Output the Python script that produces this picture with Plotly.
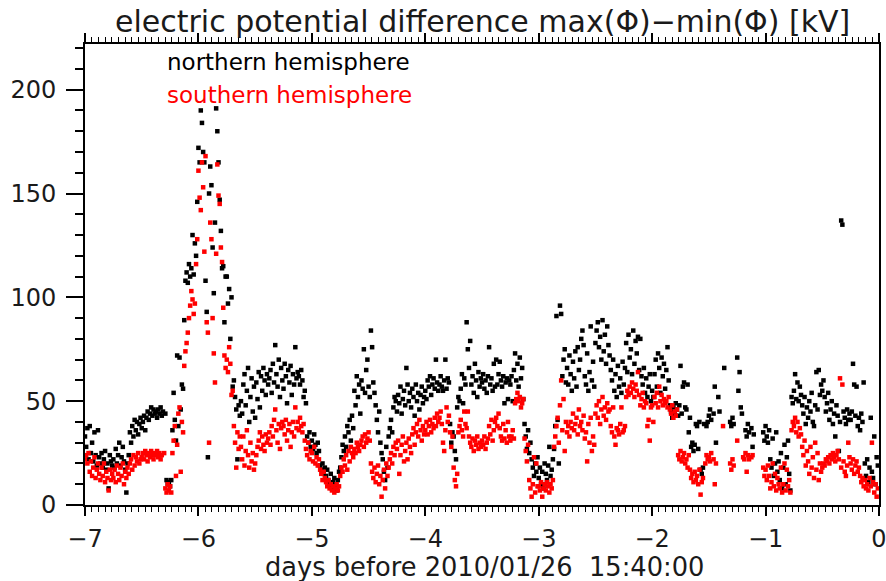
import numpy as np
import plotly.graph_objects as go

# ---- sampling: 15-minute cadence over the 7 days before the reference epoch
START_DAY = -7.0
SAMPLES_PER_DAY = 96
N = None

# ---- northern hemisphere max(phi)-min(phi) [kV], one list per day (96 samples each)
north_day7 = [33, 28, 37, 22, 38, 25, 30, 21, 35, 24, 19, 36,
              23, 20, 25, 18, 22, 26, 17, 20, 8, 24, 21, 19,
              22, 18, 27, 20, 24, 30, 19, 23, 28, 21, 17, 6,
              20, 24, 35, 30, 38, 33, 41, 36, 40, 34, 39, 42,
              37, 40, 43, 36, 42, 45, 41, 44, 47, 43, 46, 44,
              45, 42, 46, 44, 47, 43, 45, N, 44, 12, 10, 11,
              9, 12, 36, 54, 41, 31, 72, 38, 71, 46, 58, 56,
              89, 108, 112, 107, 116, 110, 114, 130, 111, 126, 120, 146]
north_day6 = [172, 165, 190, 184, 170, 165, 108, 93, 23, 150, 163, 154,
              124, 102, 136, 191, 180, 165, 147, 132, 114, 115, 88, 110,
              110, 97, 104, 80, 100, 57, 60, 52, 46, 22, 48, 43,
              50, 44, 58, 63, 48, 55, 66, 40, 52, 61, 45, 57,
              42, 59, 51, 64, 47, 62, 55, 66, 60, 53, 63, 58,
              61, 65, 54, 68, 59, 77, 63, 57, 70, 52, 66, 60,
              56, 68, 62, 49, 65, 59, 67, 53, 63, 58, 76, 61,
              64, 62, 58, 65, 60, 52, 55, 49, 33, 30, 35, 28]
north_day5 = [31, 27, 34, 29, 25, 30, 26, 19, 17, 20, 15, 18,
              14, 17, 12, 10, 15, 8, 11, 13, 9, 7, 12, 16,
              18, 23, 29, 26, 33, 28, 38, 35, 41, 31, 43, 37,
              55, 48, 62, 52, 58, 44, 60, 56, 75, 54, 65, 70,
              57, 52, 84, 76, 59, 54, 48, 41, 35, 45, 30, 25,
              22, 16, 12, 28, 18, 33, 37, 41, 35, 47, 52, 50,
              45, 53, 49, 57, 44, 51, 55, 48, 66, 58, 50, 54,
              47, 56, 52, 43, 58, 50, 54, 46, 53, 57, 49, 52]
north_day4 = [55, 51, 60, 57, 62, 53, 58, 61, 56, 70, 59, 55,
              58, 62, 57, 55, 60, 70, 56, 61, 59, 39, 30, 35,
              33, 26, 22, 47, 52, 50, 56, 63, 49, 61, 58, 88,
              75, 66, 79, 58, 62, 54, 68, 60, 52, 64, 57, 61,
              59, 63, 56, 60, 54, 62, 76, 58, 61, 55, 68, 57,
              70, 58, 63, 69, 60, 57, 62, 49, 59, 61, 51, 60,
              58, 62, 50, 65, 73, 60, 68, 57, 71, 61, 66, 51,
              39, 33, 27, 36, 25, 30, 22, 18, 14, 20, 16, 23]
north_day3 = [13, 18, 10, 16, 8, 20, 15, 12, 19, 28, 14, 17,
              22, 27, 38, 91, 41, 20, 96, 92, 62, 70, 75, 59,
              66, 58, 72, 63, 55, 69, 61, 74, 57, 76, 65, 70,
              80, 84, 77, 62, 58, 73, 55, 64, 86, 60, 69, 57,
              78, 84, 88, 76, 81, 70, 89, 74, 82, 68, 86, 77,
              72, 65, 60, 70, 55, 63, 52, 67, 57, 61, 54, 69,
              58, 66, 78, 64, 82, 71, 75, 63, 84, 68, 79, 73,
              81, 65, 80, 62, 58, 66, 54, 61, 52, 57, 63, 50]
north_day2 = [55, 52, 63, 70, 57, 73, 66, 54, 71, 62, 68, 56,
              65, 76, 60, 48, 45, 42, 47, 44, 49, 46, 43, 48,
              67, 44, 57, 59, 47, 46, 58, 35, 42, 28, 30, 26,
              29, 39, 38, 27, 40, 17, 15, 18, 39, N, 38, 40,
              43, 46, 41, N, 44, 57, 30, N, 52, 45, N, N,
              N, 66, N, N, N, N, 40, 38, 42, 39, N, N,
              71, 55, 64, 47, 44, N, N, 36, 33, 39, 35, N,
              37, 28, 34, N, N, N, N, N, N, N, 35, 31]
north_day1 = [38, 33, 30, 36, 22, 18, 32, 14, 20, 35, 16, 21,
              12, 25, 8, 18, 29, 10, 23, 31, 15, 7, 52, 49,
              55, 63, 51, 59, 50, 57, 53, 48, 44, 52, 39, 47,
              42, 50, 45, 54, 40, 38, 48, 64, 46, 65, 53, 58,
              55, 60, 52, 45, 49, 54, 41, 46, 50, 39, 44, 33,
              48, 43, 26, 40, 137, 135, 45, 42, 39, 46, 41, 44,
              41, 45, 68, 58, 43, 57, 38, 42, 36, 44, 40, 59,
              20, 14, 22, 11, 18, 42, 16, 13, 33, 10, 23, 19]

# ---- southern hemisphere max(phi)-min(phi) [kV]
south_day7 = [22, 24, 20, 25, 16, 21, 14, 18, 23, 13, 17, 20,
              15, 12, 18, 14, 20, 11, 16, 13, 7, 17, 12, 15,
              13, 17, 11, 19, 15, 12, 18, 14, 20, 10, 16, 13,
              18, 15, 20, 22, 17, 24, 19, 23, 21, 25, 20, 22,
              23, 25, 22, 26, 24, 21, 25, 23, 26, 24, 22, 25,
              24, 26, 23, 25, 22, 24, N, 25, 8, 6, 10, 7,
              9, 6, 25, 31, 38, 14, 29, 44, 47, 16, 40, 35,
              67, 74, 78, 83, 90, 96, 103, 99, 92, 97, 116, 128]
south_day6 = [161, 148, 142, 165, 153, 122, 168, 88, 83, 30, 136, 128,
              90, 73, 59, 121, 164, 149, 145, 124, 117, 95, 72, 66,
              70, 64, 76, 68, 53, 55, 38, 30, 18, 35, 27, 33,
              28, 22, 33, 19, 26, 36, 24, 18, 30, 21, 25, 17,
              20, 24, 28, 31, 35, 27, 33, 29, 26, 34, 30, 32,
              35, 29, 38, 33, 41, 46, 36, 30, 39, 27, 37, 40,
              38, 34, 41, 31, 36, 39, 28, 35, 40, 33, 47, 37,
              40, 36, 42, 38, 35, 39, 31, 27, 24, 30, 22, 26]
south_day5 = [25, 21, 28, 20, 23, 19, 22, 17, 15, 12, 16, 13,
              11, 9, 12, 8, 10, 7, 9, 6, 8, 10, 7, 9,
              14, 18, 16, 22, 19, 24, 17, 26, 21, 28, 25, 23,
              27, 25, 30, 28, 26, 29, 31, 33, 28, 34, 30, 32,
              35, 31, 20, 16, 13, 18, 11, 15, 19, 10, 14, 4,
              12, 17, 8, 20, 14, 18, 22, 25, 20, 28, 24, 30,
              27, 31, 15, 24, 29, 33, 21, 26, 30, 22, 32, 28,
              25, 34, 37, 29, 35, 39, 33, 41, 36, 31, 38, 34]
south_day4 = [36, 40, 34, 38, 41, 35, 39, 37, 42, 38, 44, 40,
              42, 45, 39, 30, 26, 36, 47, 40, 43, 35, 28, 33,
              18, 12, 9, 15, 35, 38, 41, 36, 33, 45, 39, 37,
              45, 33, 30, 28, 32, 26, 31, 29, 33, 27, 30, 28,
              31, 29, 33, 27, 30, 32, 38, 34, 41, 31, 36, 40,
              42, 38, 44, 37, 33, 31, 39, 32, 36, 30, 40, 33,
              31, 33, 36, 32, 49, 51, 54, 50, 52, 47, 49, 51,
              32, 26, 21, 29, 12, 8, 4, 10, 23, 6, 20, 9]
south_day3 = [9, 7, 11, 4, 8, 10, 7, 11, 9, 6, 10, 8,
              12, 28, 33, 38, 42, 30, 48, 60, 36, 51, 26, 40,
              35, 38, 33, 40, 37, 44, 36, 39, 42, 34, 46, 38,
              40, 36, 43, 32, 35, 21, 39, 30, 42, 26, 33, 29,
              44, 48, 42, 50, 39, 46, 52, 43, 47, 41, 49, 45,
              46, 38, 35, 47, 33, 29, 37, 36, 34, 39, 47, 35,
              36, 38, 52, 55, 53, 57, 54, 59, 56, 52, 58, 55,
              64, 53, 48, 51, 54, 47, 50, 49, 38, 41, 31, 47]
south_day2 = [48, 40, 52, 49, 54, 47, 57, 50, 53, 48, 51, 49,
              50, 47, 52, 46, 44, 48, 42, 45, 43, 46, 24, 22,
              26, 21, 23, 25, 20, 22, 18, 24, 17, 13, 15, 11,
              16, 12, 14, 10, 17, 5, 11, 13, N, 20, 24, 22,
              23, 21, 25, N, 22, 10, 20, N, N, N, N, N,
              38, N, N, N, N, N, 20, 17, 22, 19, N, N,
              31, N, N, N, N, 23, 22, 25, 16, 24, 22, N,
              23, 24, N, N, N, N, N, N, N, N, 18, 14]
south_day1 = [17, 12, 19, 14, 8, 11, 20, 9, 15, 7, 13, 10,
              8, 18, 6, 10, 20, 7, 17, 9, 12, 6, 36, 40,
              38, 42, 35, 40, 33, 37, 34, 28, 24, 31, 19, 26,
              21, 15, 28, 18, 23, 13, 30, 17, 25, 12, 20, 16,
              18, 20, 19, 22, 21, 23, 20, 24, 22, 25, 23, 21,
              24, 26, 22, 61, 18, 58, 21, 16, 14, 19, 30, 23,
              20, 17, 22, 15, 19, 21, 16, 18, 14, 11, 13, 9,
              12, 8, 10, 7, 13, 9, 30, 11, 6, 10, 4, 8]

north = north_day7 + north_day6 + north_day5 + north_day4 + north_day3 + north_day2 + north_day1
south = south_day7 + south_day6 + south_day5 + south_day4 + south_day3 + south_day2 + south_day1
times = START_DAY + np.arange(len(north)) / SAMPLES_PER_DAY

x_ticks = [-7, -6, -5, -4, -3, -2, -1, 0]
y_ticks = [0, 50, 100, 150, 200]

TITLE = "electric potential difference max(\u03a6)\u2212min(\u03a6) [kV]"
XTITLE = "days before 2010/01/26 \u00a015:40:00"
FONT = "DejaVu Sans"
INK = "#1a1a1a"

fig = go.Figure()
fig.add_trace(go.Scatter(x=times, y=north, mode="markers", name="northern hemisphere",
                         marker=dict(symbol="square", size=4.5, color="black", line=dict(width=0))))
fig.add_trace(go.Scatter(x=times, y=south, mode="markers", name="southern hemisphere",
                         marker=dict(symbol="square", size=4.5, color="#ff0000", line=dict(width=0))))

fig.update_layout(
    width=886, height=581,
    margin=dict(l=85, r=7, t=44, b=76, autoexpand=False),
    paper_bgcolor="white", plot_bgcolor="white",
    showlegend=False,
    font=dict(family=FONT, color=INK, size=24),
    annotations=[
        dict(text=TITLE, xref="paper", yref="paper", x=0.5, y=1.048, xanchor="center",
             yanchor="middle", showarrow=False, font=dict(size=30, color=INK)),
        dict(text="northern hemisphere", xref="paper", yref="paper", x=0.1008, y=0.961,
             xanchor="left", yanchor="middle", showarrow=False, font=dict(size=23, color="black")),
        dict(text="southern hemisphere", xref="paper", yref="paper", x=0.1008, y=0.889,
             xanchor="left", yanchor="middle", showarrow=False, font=dict(size=23, color="#ff0000")),
        dict(text=XTITLE, xref="paper", yref="paper", x=0.503, y=-0.1345, xanchor="center",
             yanchor="middle", showarrow=False, font=dict(size=25.7, color=INK)),
    ],
)
fig.update_xaxes(
    range=[-7, 0], tickvals=x_ticks, ticks="outside", ticklen=9, tickwidth=1.5,
    tickcolor="black", showline=True, linewidth=2, linecolor="black", mirror="ticks",
    showgrid=False, zeroline=False, tickfont=dict(size=24), ticklabelstandoff=2,
    automargin=False, ticklabeloverflow="allow",
    minor=dict(dtick=1 / 17, tick0=-7, ticks="outside", ticklen=5, tickwidth=1, tickcolor="black"),
)
fig.update_yaxes(
    range=[0, 222], tickvals=y_ticks, ticks="outside", ticklen=17, tickwidth=1.5,
    tickcolor="black", showline=True, linewidth=2, linecolor="black", mirror=True,
    showgrid=False, zeroline=False, tickfont=dict(size=24), ticklabelstandoff=5,
    automargin=False, ticklabeloverflow="allow",
    minor=dict(dtick=10, tick0=0, ticks="outside", ticklen=8, tickwidth=1.5, tickcolor="black"),
)

fig.write_html("out.html", config={"displayModeBar": False},
               post_script="document.body.style.margin='0px';")
